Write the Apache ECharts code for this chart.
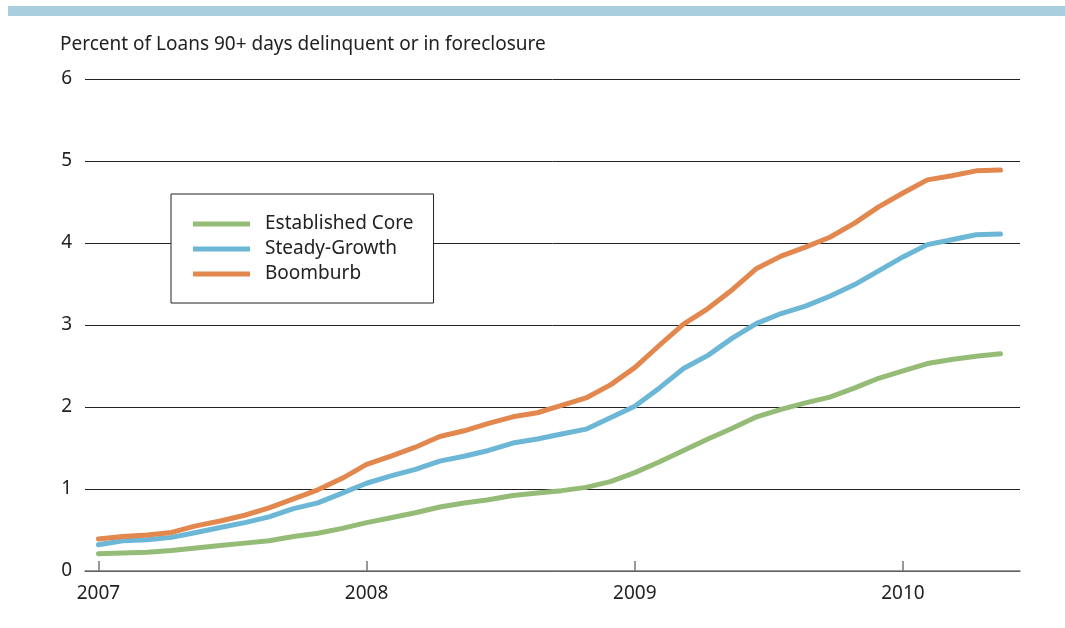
<html>
    <head>
        <meta charset="utf-8">
        <title>Loans 90+ days delinquent</title>
        <script src="https://cdn.jsdelivr.net/npm/echarts/dist/echarts.min.js"></script>
        <style>
            body { margin: 0; background: #fff; }
            #chart { width: 1065px; height: 628px; }
        </style>
    </head>
    <body>
        <div id="chart"></div>
        <script type="text/javascript">
            // monthly points, index 0 = start of 2007
            var yearLabels = ['2007', '2008', '2009', '2010'];
            var yearIndex = [0, 11, 22, 33];
            var establishedCore = [0.21, 0.22, 0.23, 0.25, 0.28, 0.31, 0.34, 0.37, 0.42, 0.46,
                0.52, 0.59, 0.65, 0.71, 0.78, 0.83, 0.87, 0.92, 0.95, 0.98,
                1.02, 1.09, 1.20, 1.33, 1.47, 1.61, 1.74, 1.88, 1.97, 2.05,
                2.12, 2.23, 2.35, 2.44, 2.53, 2.58, 2.62, 2.65];
            var steadyGrowth = [0.32, 0.37, 0.38, 0.41, 0.47, 0.53, 0.59, 0.66, 0.76, 0.83,
                0.95, 1.07, 1.16, 1.24, 1.34, 1.40, 1.47, 1.56, 1.61, 1.67,
                1.73, 1.87, 2.01, 2.23, 2.47, 2.63, 2.84, 3.02, 3.14, 3.23,
                3.35, 3.49, 3.66, 3.83, 3.98, 4.04, 4.10, 4.11];
            var boomburb = [0.39, 0.42, 0.44, 0.47, 0.55, 0.61, 0.68, 0.77, 0.88, 0.99,
                1.13, 1.30, 1.40, 1.51, 1.64, 1.71, 1.80, 1.88, 1.93, 2.02,
                2.11, 2.27, 2.48, 2.75, 3.01, 3.20, 3.43, 3.69, 3.84, 3.95,
                4.07, 4.24, 4.44, 4.61, 4.77, 4.82, 4.88, 4.89];

            function toPoints(arr) {
                var out = [];
                for (var i = 0; i < arr.length; i++) {
                    out.push([i, arr[i]]);
                }
                return out;
            }

            var dom = document.getElementById("chart");
            var myChart = echarts.init(dom);
            var font = 'Noto Sans';

            var option = {
                animation: false,
                textStyle: { fontFamily: font },
                graphic: [
                    {
                        type: 'rect',
                        shape: { x: 8, y: 6, width: 1057, height: 10 },
                        style: { fill: '#a9cfdf' }
                    },
                    {
                        type: 'text',
                        left: 60,
                        top: 35,
                        style: {
                            text: 'Percent of Loans 90+ days delinquent or in foreclosure',
                            fontFamily: font,
                            fontSize: 19,
                            fill: '#222'
                        }
                    }
                ],
                legend: {
                    orient: 'vertical',
                    left: 171,
                    top: 194,
                    padding: [20, 20, 19, 22],
                    borderColor: '#222',
                    borderWidth: 1,
                    backgroundColor: '#fff',
                    icon: 'rect',
                    itemWidth: 57,
                    itemHeight: 5,
                    itemGap: 5,
                    textStyle: { fontFamily: font, fontSize: 19, color: '#222', lineHeight: 20, padding: [0, 0, 0, 10] },
                    data: ['Established Core', 'Steady-Growth', 'Boomburb']
                },
                grid: {
                    left: 85,
                    right: 45,
                    top: 79,
                    bottom: 57
                },
                xAxis: {
                    type: 'value',
                    min: -0.55,
                    max: 37.8,
                    axisLine: { show: true, lineStyle: { color: '#777', width: 1.5 } },
                    axisTick: {
                        show: true,
                        inside: true,
                        length: 10,
                        customValues: yearIndex,
                        lineStyle: { color: '#777', width: 1.5 }
                    },
                    axisLabel: {
                        customValues: yearIndex,
                        formatter: function (v) {
                            return yearLabels[yearIndex.indexOf(v)];
                        },
                        fontFamily: font,
                        fontSize: 19,
                        color: '#222',
                        margin: 13
                    },
                    splitLine: { show: false }
                },
                yAxis: {
                    type: 'value',
                    min: 0,
                    max: 6,
                    interval: 1,
                    axisLine: { show: false },
                    axisTick: { show: false },
                    axisLabel: { fontFamily: font, fontSize: 19, color: '#222', margin: 13 },
                    splitLine: { lineStyle: { color: '#222', width: 1 } }
                },
                series: [
                    {
                        name: 'Established Core',
                        type: 'line',
                        symbol: 'none',
                        data: toPoints(establishedCore),
                        itemStyle: { color: '#94bc77' },
                        lineStyle: { color: '#94bc77', width: 5, cap: 'round', join: 'round' }
                    },
                    {
                        name: 'Steady-Growth',
                        type: 'line',
                        symbol: 'none',
                        data: toPoints(steadyGrowth),
                        itemStyle: { color: '#6cb6d6' },
                        lineStyle: { color: '#6cb6d6', width: 5, cap: 'round', join: 'round' }
                    },
                    {
                        name: 'Boomburb',
                        type: 'line',
                        symbol: 'none',
                        data: toPoints(boomburb),
                        itemStyle: { color: '#e2884f' },
                        lineStyle: { color: '#e2884f', width: 5, cap: 'round', join: 'round' }
                    }
                ]
            };
            if (option && typeof option === "object") {
                myChart.setOption(option, true);
            }
        </script>
    </body>
</html>
